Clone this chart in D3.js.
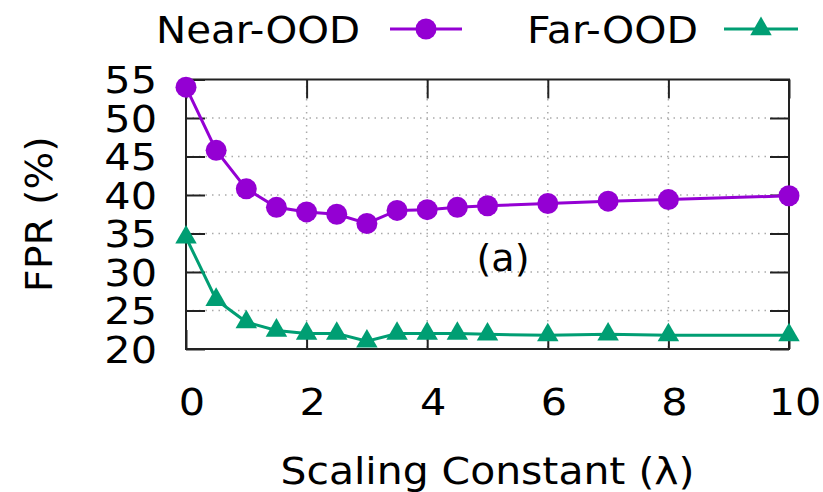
<!DOCTYPE html>
<html>
<head>
<meta charset="utf-8">
<script src="https://cdn.jsdelivr.net/npm/d3@7"></script>
<style>
  body { margin: 0; background: #fff; }
  text { font-family: "DejaVu Sans", sans-serif; fill: #000; }
</style>
</head>
<body>
<script>

var width = 823,
  height = 492;

// data
var lambdas = [0, 0.5, 1, 1.5, 2, 2.5, 3, 3.5, 4, 4.5, 5, 6, 7, 8, 10];
var nearOOD = [54.0, 45.8, 40.8, 38.4, 37.8, 37.5, 36.3, 38.0, 38.1, 38.4, 38.6, 38.9, 39.2, 39.4, 39.9];
var farOOD = [34.5, 26.4, 23.5, 22.4, 22.0, 22.0, 21.0, 22.0, 22.0, 22.0, 21.9, 21.8, 21.9, 21.8, 21.8];
var xTicks = [0, 2, 4, 6, 8, 10];
var yTicks = [20, 25, 30, 35, 40, 45, 50, 55];

var pLeft = 186, pRight = 789, pTop = 79.5, pBottom = 349;
var stretch = 1.09;  // reference glyphs run a bit wider than DejaVu

var svg = d3.select("body").append("svg")
  .attr("width", width)
  .attr("height", height);

var x = d3.scaleLinear().domain([0, 10]).range([pLeft, pRight]);
var y = d3.scaleLinear().domain([20, 55]).range([pBottom, pTop]);

// dotted grid
svg.append("g").selectAll("line").data(yTicks.slice(1, -1)).enter().append("line")
  .attr("x1", pLeft).attr("x2", pRight)
  .attr("y1", function(d){return y(d)}).attr("y2", function(d){return y(d)})
  .attr("stroke", "#aaa").attr("stroke-width", 1.5).attr("stroke-dasharray", "1.5,5");
svg.append("g").selectAll("line").data(xTicks.slice(1, -1)).enter().append("line")
  .attr("y1", pTop).attr("y2", pBottom)
  .attr("x1", function(d){return x(d)}).attr("x2", function(d){return x(d)})
  .attr("stroke", "#aaa").attr("stroke-width", 1.5).attr("stroke-dasharray", "1.5,5");

// axes with inward ticks, mirrored
var tl = 19;
svg.append("g").attr("transform", "translate(0," + pBottom + ")")
  .call(d3.axisTop(x).tickValues(xTicks).tickSize(tl).tickFormat(""));
svg.append("g").attr("transform", "translate(0," + pTop + ")")
  .call(d3.axisBottom(x).tickValues(xTicks).tickSize(tl).tickFormat(""));
svg.append("g").attr("transform", "translate(" + pLeft + ",0)")
  .call(d3.axisRight(y).tickValues(yTicks).tickSize(tl).tickFormat(""));
svg.append("g").attr("transform", "translate(" + pRight + ",0)")
  .call(d3.axisLeft(y).tickValues(yTicks).tickSize(tl).tickFormat(""));
svg.selectAll(".domain").remove();
svg.selectAll(".tick line").attr("stroke", "#222").attr("stroke-width", 2);

svg.append("rect")
  .attr("x", pLeft).attr("y", pTop)
  .attr("width", pRight - pLeft).attr("height", pBottom - pTop)
  .attr("fill", "none").attr("stroke", "#222").attr("stroke-width", 2);

// tick labels
svg.append("g").selectAll("text").data(yTicks).enter().append("text")
  .attr("transform", function(d){return "translate(157," + y(d) + ") scale(" + stretch + ",1)"})
  .attr("dy", "0.36em")
  .attr("text-anchor", "end")
  .style("font-size", "38px")
  .text(function(d){return d});
svg.append("g").selectAll("text").data(xTicks).enter().append("text")
  .attr("transform", function(d){return "translate(" + (x(d) + 6) + ",415) scale(" + stretch + ",1)"})
  .attr("text-anchor", "middle")
  .style("font-size", "38px")
  .text(function(d){return d});

// axis titles
svg.append("text")
  .attr("x", (pLeft + pRight) / 2).attr("y", 484)
  .attr("text-anchor", "middle")
  .attr("textLength", 414).attr("lengthAdjust", "spacingAndGlyphs")
  .style("font-size", "38px")
  .text("Scaling Constant (λ)");
svg.append("text")
  .attr("transform", "translate(52," + ((pTop + pBottom) / 2) + ") rotate(-90)")
  .attr("text-anchor", "middle")
  .attr("textLength", 156).attr("lengthAdjust", "spacingAndGlyphs")
  .style("font-size", "38px")
  .text("FPR (%)");

svg.append("text")
  .attr("x", 503).attr("y", 271)
  .attr("text-anchor", "middle")
  .attr("textLength", 53).attr("lengthAdjust", "spacingAndGlyphs")
  .style("font-size", "38px")
  .text("(a)");

// series
var nearColor = "#9400d3", farColor = "#009e73";
var triangle = d3.symbol().type(d3.symbolTriangle).size(200);

function line(vals) {
  return d3.line()
    .x(function(d, i){return x(lambdas[i])})
    .y(function(d){return y(d)})(vals);
}

svg.append("path").attr("d", line(nearOOD))
  .attr("fill", "none").attr("stroke", nearColor).attr("stroke-width", 3);
svg.append("g").selectAll("circle").data(nearOOD).enter().append("circle")
  .attr("cx", function(d, i){return x(lambdas[i])})
  .attr("cy", function(d){return y(d)})
  .attr("r", 10.5)
  .attr("fill", nearColor);

svg.append("path").attr("d", line(farOOD))
  .attr("fill", "none").attr("stroke", farColor).attr("stroke-width", 3);
svg.append("g").selectAll("path").data(farOOD).enter().append("path")
  .attr("d", triangle)
  .attr("transform", function(d, i){return "translate(" + x(lambdas[i]) + "," + y(d) + ")"})
  .attr("fill", farColor);

// legend
var legend = [
  {name: "Near-OOD", color: nearColor, tx: 360, tw: 204, x1: 390, x2: 462, shape: "circle"},
  {name: "Far-OOD", color: farColor, tx: 698, tw: 171, x1: 724, x2: 798, shape: "triangle"}
];
legend.forEach(function(l) {
  svg.append("text")
    .attr("x", l.tx - l.tw).attr("y", 43)
    .attr("textLength", l.tw).attr("lengthAdjust", "spacingAndGlyphs")
    .style("font-size", "38px")
    .text(l.name);
  svg.append("line")
    .attr("x1", l.x1).attr("x2", l.x2).attr("y1", 29).attr("y2", 29)
    .attr("stroke", l.color).attr("stroke-width", 3);
  var cx = (l.x1 + l.x2) / 2;
  if (l.shape == "circle") {
    svg.append("circle").attr("cx", cx).attr("cy", 29).attr("r", 10.5).attr("fill", l.color);
  } else {
    svg.append("path").attr("d", triangle)
      .attr("transform", "translate(" + cx + ",29)").attr("fill", l.color);
  }
});

</script>
</body>
</html>
